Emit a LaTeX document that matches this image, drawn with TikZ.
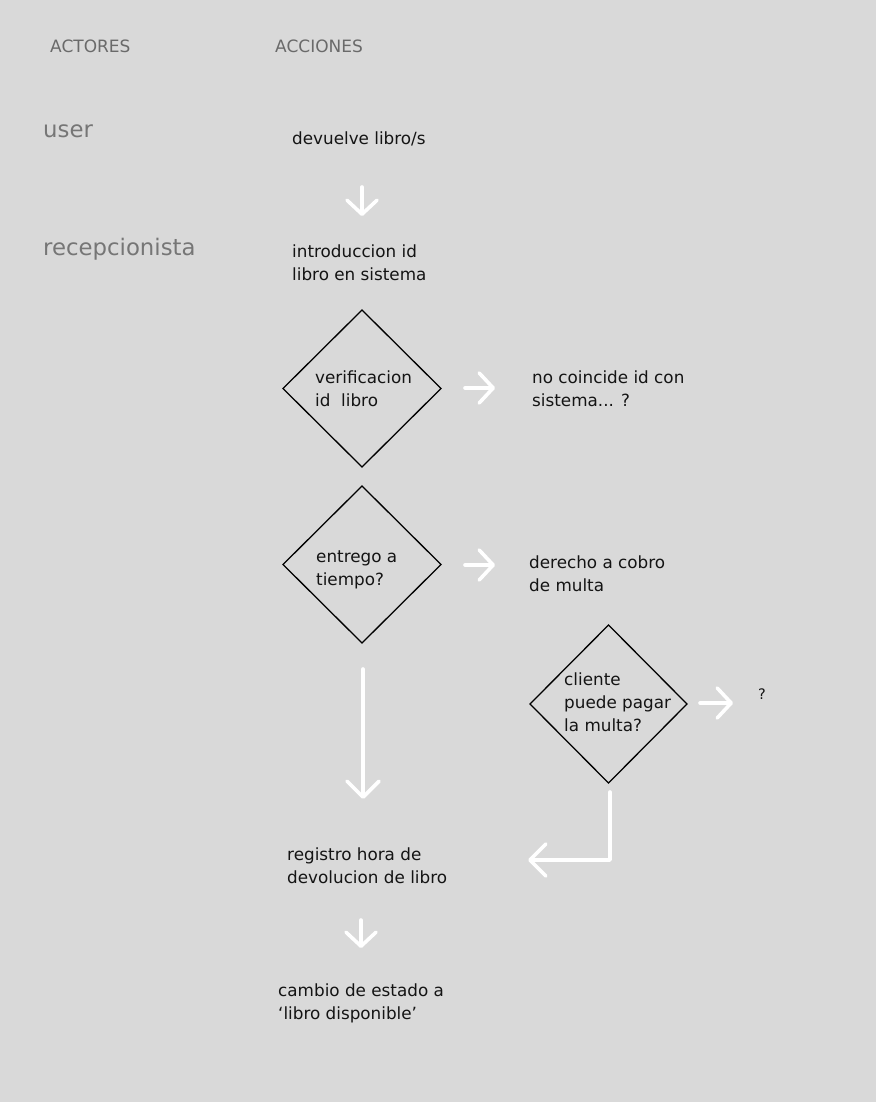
\documentclass[tikz,border=0pt]{standalone}
\usepackage{fontspec}
\setmainfont{DejaVu Sans}
\usetikzlibrary{arrows.meta}
\definecolor{bg}{HTML}{D9D9D9}
\definecolor{headgray}{HTML}{6A6A6A}
\definecolor{actorgray}{HTML}{767676}
\definecolor{txt}{HTML}{141414}
\tikzset{
  head/.style={anchor=base west, inner sep=0, text=headgray, font=\fontsize{17}{20}\selectfont},
  actor/.style={anchor=base west, inner sep=0, text=actorgray, font=\fontsize{22.8}{26}\selectfont},
  lbl/.style={anchor=base west, inner sep=0, text=txt, align=left, font=\fontsize{16.8}{22.8}\selectfont},
  decision/.style={draw=black, line width=1.3pt},
  flow/.style={draw=white, line width=3.6pt, line cap=round, line join=round,
    -{Straight Barb[length=14pt,width=30pt,round]}},
}
\begin{document}
\begin{tikzpicture}[x=1pt,y=-1pt]
\fill[bg] (0,0) rectangle (876,1102);
\useasboundingbox (0,0) rectangle (876,1102);

% headers
\node[head] (hact) at (50,53) {ACTORES};
\node[head] (hacc) at (275,53) {ACCIONES};

% actors
\node[actor] (user) at (43,138) {user};
\node[actor] (recep) at (43,255) {recepcionista};

% steps (anchored at the baseline of the last line)
\node[lbl] (dev) at (292,145) {devuelve libro/s};
\node[lbl] (intro) at (292,280) {introduccion id\\libro en sistema};

% decision 1
\draw[decision] (362,310) -- (441,388.5) -- (362,467) -- (283,388.5) -- cycle;
\node[lbl] (ver) at (315,406) {verificacion\\id\ \ libro};
\node[lbl] (nocoin) at (532,406) {no coincide id con\\sistema... ?};

% decision 2
\draw[decision] (362,486) -- (441,564.5) -- (362,643) -- (283,564.5) -- cycle;
\node[lbl] (entr) at (316,585) {entrego a\\tiempo?};
\node[lbl] (dere) at (529,591) {derecho a cobro\\de multa};

% decision 3
\draw[decision] (608.5,625) -- (687,704) -- (608.5,783) -- (530,704) -- cycle;
\node[lbl] (cli) at (564,731) {cliente\\puede pagar\\la multa?};
\node[lbl, font=\fontsize{14.5}{18}\selectfont] (q) at (758,699) {?};

\node[lbl] (reg) at (287,883) {registro hora de\\devolucion de libro};
\node[lbl] (camb) at (278,1019) {cambio de estado a\\‘libro disponible’};

% connector coordinates
\coordinate (a1s) at (362,187);
\coordinate (a1e) at (362,216);
\coordinate (a2s) at (465,388);
\coordinate (a2e) at (495,388);
\coordinate (a3s) at (465,565);
\coordinate (a3e) at (495,565);
\coordinate (a4s) at (700,703);
\coordinate (a4e) at (733,703);
\coordinate (a5s) at (363,669);
\coordinate (a5e) at (363,799);
\coordinate (a6s) at (610,792);
\coordinate (a6m) at (610,860);
\coordinate (a6e) at (528,860);
\coordinate (a7s) at (361,920);
\coordinate (a7e) at (361,948);

\draw[flow] (a1s) -- (a1e);
\draw[flow] (a2s) -- (a2e);
\draw[flow] (a3s) -- (a3e);
\draw[flow] (a4s) -- (a4e);
\draw[flow, -{Straight Barb[length=16pt,width=32pt,round]}] (a5s) -- (a5e);
\draw[flow, -{Straight Barb[length=16pt,width=32pt,round]}] (a6s) -- (a6m) -- (a6e);
\draw[flow] (a7s) -- (a7e);
\end{tikzpicture}
\end{document}
